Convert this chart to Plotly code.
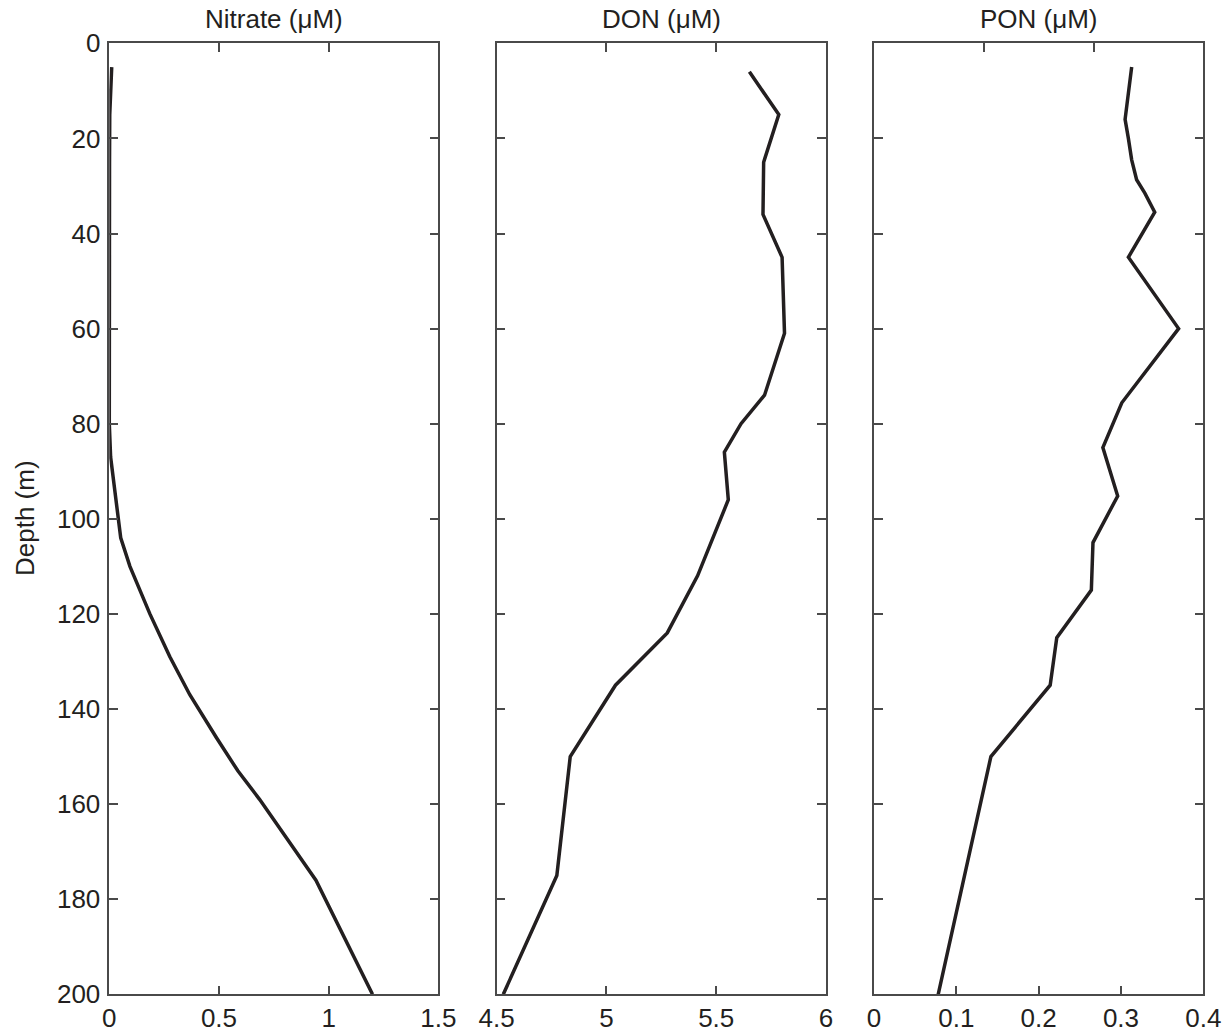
import plotly.graph_objects as go

# ---- data ----
nitrate_depth = [5, 15, 25, 35, 45, 60, 75, 80, 87, 104, 110, 120, 129, 137, 146, 153, 159, 163, 170, 176, 200]
nitrate_vals = [0.011, 0.002, 0.001, 0.001, 0.001, 0.001, 0.0, 0.0, 0.006, 0.052, 0.094, 0.185, 0.276,
                0.367, 0.488, 0.586, 0.685, 0.745, 0.852, 0.942, 1.2]

don_depth = [6, 15, 25, 36, 45, 61, 74, 80, 86, 96, 112, 124, 135, 150, 175, 200]
don_vals = [5.651, 5.785, 5.716, 5.713, 5.800, 5.811, 5.720, 5.613, 5.537, 5.555, 5.415, 5.277,
            5.041, 4.835, 4.774, 4.530]

pon_depth = [5, 16, 20, 24.5, 28.7, 31.5, 35.5, 45, 60, 75.6, 85, 95.2, 105, 115, 125, 135, 150, 200]
pon_vals = [0.313, 0.305, 0.309, 0.313, 0.319, 0.329, 0.341, 0.309, 0.370, 0.301, 0.278, 0.296,
            0.266, 0.264, 0.222, 0.214, 0.142, 0.078]

titles = ["Nitrate (\u03bcM)", "DON (\u03bcM)", "PON (\u03bcM)"]
y_title = "Depth (m)"
x_ranges = [[0, 1.5], [4.5, 6], [0, 0.4]]
x_dticks = [0.5, 0.5, 0.1]
depth_range = [200, 0]
depth_tick = 20

# ---- layout geometry ----
W, H = 1225, 1034
TXT = "#231f20"
AX = "#4a4a4a"
FONT = "Liberation Sans, Arial, Helvetica, sans-serif"
FS = 26

px_x = [(109.3, 438.3), (496.7, 826.0), (874.0, 1203.3)]
top_px, bot_px = 43.3, 994.3
ydom = [1 - bot_px / H, 1 - top_px / H]

fig = go.Figure()
series = [(nitrate_vals, nitrate_depth), (don_vals, don_depth), (pon_vals, pon_depth)]
for i, (xv, yv) in enumerate(series):
    sfx = "" if i == 0 else str(i + 1)
    fig.add_trace(go.Scatter(x=xv, y=yv, mode="lines",
                             line=dict(color=TXT, width=3.5),
                             xaxis="x" + sfx, yaxis="y" + sfx,
                             showlegend=False, hoverinfo="skip"))

common_axis = dict(showgrid=False, zeroline=False, showline=True, linecolor=AX, linewidth=1.5,
                   ticks="inside", ticklen=9, tickwidth=1.5, tickcolor=AX, automargin=False,
                   tickfont=dict(family=FONT, size=FS, color=TXT))

layout = dict(width=W, height=H, margin=dict(l=0, r=0, t=0, b=0, autoexpand=False),
              paper_bgcolor="white", plot_bgcolor="white", showlegend=False,
              font=dict(family=FONT, size=FS, color=TXT))

for i in range(3):
    sfx = "" if i == 0 else str(i + 1)
    xd = [px_x[i][0] / W, px_x[i][1] / W]
    xa = dict(common_axis, domain=xd, range=x_ranges[i], dtick=x_dticks[i], tick0=x_ranges[i][0],
              anchor="y" + sfx, mirror="ticks" if i < 2 else True, ticklabelstandoff=0)
    ya = dict(common_axis, domain=ydom, range=depth_range, dtick=depth_tick, tick0=0,
              anchor="x" + sfx, mirror="ticks", showticklabels=(i == 0), ticklabelstandoff=2)
    layout["xaxis" + sfx] = xa
    layout["yaxis" + sfx] = ya

# top ticks of the third panel sit at 1/3 and 2/3 of the width, as in the reference
layout["xaxis4"] = dict(domain=[px_x[2][0] / W, px_x[2][1] / W], range=x_ranges[2], overlaying="x3",
                        anchor="y3", side="top", showgrid=False, zeroline=False, showline=False,
                        ticks="inside", ticklen=9, tickwidth=1.5, tickcolor=AX, automargin=False,
                        tickvals=[x_ranges[2][1] / 3, 2 * x_ranges[2][1] / 3], showticklabels=False)
fig.add_trace(go.Scatter(x=[None], y=[None], xaxis="x4", yaxis="y3", showlegend=False, hoverinfo="skip"))

annotations = []
for i in range(3):
    cx = (px_x[i][0] + px_x[i][1]) / 2 / W
    annotations.append(dict(text=titles[i], x=cx, y=1 - 19 / H, xref="paper", yref="paper",
                            xanchor="center", yanchor="middle", showarrow=False,
                            font=dict(family=FONT, size=FS, color=TXT)))
annotations.append(dict(text=y_title, x=25 / W, y=1 - 518 / H, xref="paper", yref="paper",
                        xanchor="center", yanchor="middle", showarrow=False, textangle=-90,
                        font=dict(family=FONT, size=FS, color=TXT)))
layout["annotations"] = annotations

fig.update_layout(**layout)
fig.write_html("out.html", config={"displayModeBar": False},
               post_script="document.body.style.margin='0px';document.body.style.overflow='hidden';")
